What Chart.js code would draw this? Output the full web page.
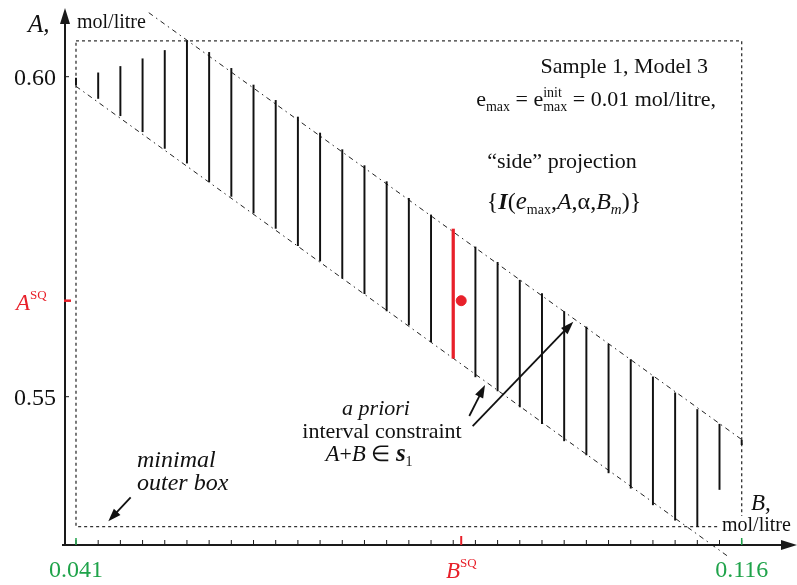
<!DOCTYPE html>
<html>
<head>
<meta charset="utf-8">
<script src="https://cdn.jsdelivr.net/npm/chart.js@4"></script>
<style>
body { margin: 0; background: #fff; }
</style>
</head>
<body>
<canvas id="myChart" width="797" height="585"></canvas>
<script>
// B values of the hatch segments (mol/litre)
const segB = [0.0410, 0.0435, 0.0460, 0.0485, 0.0510, 0.0535, 0.0560, 0.0585, 0.0610, 0.0635,
    0.0660, 0.0685, 0.0710, 0.0735, 0.0760, 0.0785, 0.0810, 0.0835, 0.0860, 0.0885,
    0.0910, 0.0935, 0.0960, 0.0985, 0.1010, 0.1035, 0.1060, 0.1085, 0.1110, 0.1135, 0.1160];
// lower / upper A of each segment
const segLow = [0.5987, 0.5966, 0.5939, 0.5914, 0.5888, 0.5865, 0.5836, 0.5813, 0.5787, 0.5763,
    0.5736, 0.5712, 0.5685, 0.5661, 0.5634, 0.5612, 0.5586, 0.5560, 0.5531, 0.5509,
    0.5484, 0.5458, 0.5431, 0.5409, 0.5381, 0.5357, 0.5331, 0.5307, 0.5297, 0.5355, 0.5425];
const segHigh = [0.5998, 0.6006, 0.6016, 0.6028, 0.6041, 0.6056, 0.6038, 0.6013, 0.5987, 0.5963,
    0.5937, 0.5912, 0.5886, 0.5861, 0.5836, 0.5810, 0.5784, 0.5762, 0.5734, 0.5710,
    0.5682, 0.5661, 0.5633, 0.5609, 0.5582, 0.5558, 0.5531, 0.5506, 0.5480, 0.5457, 0.5432];
const redSeg = 17;

const sqB = 0.0844;
const sqA = 0.5650;

// minimal outer box
const boxB = [0.041, 0.116];
const boxA = [0.5297, 0.6056];

// a priori constraint lines A+B = const
const upperB = [0.0492, 0.1160];
const upperA = [0.6100, 0.5433];
const lowerB = [0.0410, 0.1145];
const lowerA = [0.5985, 0.5250];

const yTicks = [0.60, 0.55];
const yTickLabels = ['0.60', '0.55'];
const xEndTicks = [0.041, 0.116];
const xEndLabels = ['0.041', '0.116'];

// arrows, [fromB, fromA, toB, toA]
const arrows = [
    [0.04716, 0.53427, 0.04464, 0.53052],
    [0.08531, 0.54698, 0.08708, 0.55183],
    [0.08569, 0.54542, 0.09703, 0.56172]
];

const serif = '"Liberation Serif", "Times New Roman", serif';
const font = (size, style = '') => `${style} ${size}px ${serif}`.trim();
const green = '#1fa34a';
const red = '#e8202a';

function drawRuns(ctx, x, y, parts, align, color, bg) {
    ctx.save();
    ctx.textBaseline = 'alphabetic';
    ctx.textAlign = 'left';
    const widths = parts.map(p => {
        ctx.font = p.f;
        if (p.stack) {
            return Math.max(ctx.measureText(p.stack[0]).width, ctx.measureText(p.stack[1]).width);
        }
        return ctx.measureText(p.t).width;
    });
    const total = widths.reduce((a, b) => a + b, 0);
    let cx = align === 'right' ? x - total : align === 'center' ? x - total / 2 : x;
    if (bg) {
        ctx.fillStyle = '#fff';
        ctx.fillRect(cx - 2, y - 15, total + 4, 19);
    }
    ctx.fillStyle = color || '#111';
    parts.forEach((p, i) => {
        ctx.font = p.f;
        if (p.stack) {
            ctx.fillText(p.stack[0], cx, y + p.dy[0]);
            ctx.fillText(p.stack[1], cx, y + p.dy[1]);
        } else {
            ctx.fillText(p.t, cx, y + (p.dy || 0));
        }
        cx += widths[i];
    });
    ctx.restore();
}

function arrowHead(ctx, x1, y1, x2, y2, len, hw) {
    const a = Math.atan2(y2 - y1, x2 - x1);
    const c = Math.cos(a), s = Math.sin(a);
    ctx.beginPath();
    ctx.moveTo(x1, y1);
    ctx.lineTo(x2 - c * len * 0.7, y2 - s * len * 0.7);
    ctx.stroke();
    ctx.beginPath();
    ctx.moveTo(x2, y2);
    ctx.lineTo(x2 - c * len + s * hw, y2 - s * len - c * hw);
    ctx.lineTo(x2 - c * len - s * hw, y2 - s * len + c * hw);
    ctx.closePath();
    ctx.fill();
}

const bgPlugin = {
    id: 'bg',
    beforeDraw: (chart) => {
        const { ctx } = chart;
        ctx.save();
        ctx.fillStyle = '#fff';
        ctx.fillRect(0, 0, chart.width, chart.height);
        ctx.restore();
    }
};

const decorPlugin = {
    id: 'decor',
    afterDatasetsDraw: (chart) => {
        const { ctx, chartArea } = chart;
        const xs = chart.scales.x, ys = chart.scales.y;
        const px = v => xs.getPixelForValue(v);
        const py = v => ys.getPixelForValue(v);
        const left = chartArea.left, bottom = chartArea.bottom;

        ctx.save();
        // axes
        ctx.strokeStyle = '#1a1a1a';
        ctx.fillStyle = '#1a1a1a';
        ctx.lineWidth = 2;
        arrowHead(ctx, left, bottom + 1, left, 8, 16, 5);
        arrowHead(ctx, left - 3, bottom, 797, bottom, 16, 5);

        // x minor ticks
        ctx.lineWidth = 1;
        segB.forEach(b => {
            ctx.beginPath();
            ctx.moveTo(px(b), bottom);
            ctx.lineTo(px(b), bottom - 5);
            ctx.stroke();
        });
        ctx.strokeStyle = green;
        ctx.lineWidth = 1.5;
        xEndTicks.forEach(b => {
            ctx.beginPath();
            ctx.moveTo(px(b), bottom);
            ctx.lineTo(px(b), bottom - 7);
            ctx.stroke();
        });
        ctx.strokeStyle = red;
        ctx.lineWidth = 2;
        ctx.beginPath();
        ctx.moveTo(px(sqB), bottom);
        ctx.lineTo(px(sqB), bottom - 9);
        ctx.stroke();

        // y ticks
        ctx.strokeStyle = '#1a1a1a';
        ctx.lineWidth = 1;
        yTicks.forEach(a => {
            ctx.beginPath();
            ctx.moveTo(left, py(a));
            ctx.lineTo(left + 4, py(a));
            ctx.stroke();
        });
        ctx.strokeStyle = red;
        ctx.lineWidth = 2.5;
        ctx.beginPath();
        ctx.moveTo(left - 1, py(sqA));
        ctx.lineTo(left + 6, py(sqA));
        ctx.stroke();

        // arrows
        ctx.strokeStyle = '#111';
        ctx.fillStyle = '#111';
        ctx.lineWidth = 1.8;
        arrows.forEach(a => arrowHead(ctx, px(a[0]), py(a[1]), px(a[2]), py(a[3]), 13, 4.5));
        ctx.restore();

        // tick labels
        const F = font(24);
        yTicks.forEach((a, i) => {
            drawRuns(ctx, 56, py(a) + 8, [{ t: yTickLabels[i], f: F }], 'right');
        });
        xEndTicks.forEach((b, i) => {
            drawRuns(ctx, px(b), 577, [{ t: xEndLabels[i], f: F }], 'center', green);
        });
        drawRuns(ctx, 446, 578, [{ t: 'B', f: font(23, 'italic') }, { t: 'SQ', f: font(13), dy: -11 }], 'left', red);
        drawRuns(ctx, 16, py(sqA) + 9, [{ t: 'A', f: font(23, 'italic') }, { t: 'SQ', f: font(13), dy: -11 }], 'left', red);

        // axis titles
        drawRuns(ctx, 28, 32, [{ t: 'A,', f: font(25, 'italic') }], 'left');
        drawRuns(ctx, 77, 28, [{ t: 'mol/litre', f: font(20) }], 'left');
        drawRuns(ctx, 751, 510, [{ t: 'B,', f: font(23, 'italic') }], 'left', null, true);
        drawRuns(ctx, 722, 531, [{ t: 'mol/litre', f: font(20) }], 'left', null, true);

        // annotations
        const T = font(22), Ts = font(14), Ti = font(22, 'italic');
        drawRuns(ctx, 708, 73, [{ t: 'Sample 1, Model 3', f: T }], 'right');
        drawRuns(ctx, 716, 106, [
            { t: 'e', f: T }, { t: 'max', f: Ts, dy: 5 }, { t: ' = e', f: T },
            { stack: ['init', 'max'], f: Ts, dy: [-9, 5] },
            { t: ' = 0.01 mol/litre,', f: T }
        ], 'right');
        drawRuns(ctx, 562, 168, [{ t: '\u201cside\u201d projection', f: T }], 'center');
        drawRuns(ctx, 564, 209, [
            { t: '{', f: font(24) }, { t: 'I', f: font(24, 'bold italic') }, { t: '(', f: font(24) },
            { t: 'e', f: font(25, 'italic') }, { t: 'max', f: Ts, dy: 5 }, { t: ',', f: font(24) },
            { t: 'A', f: font(24, 'italic') }, { t: ',\u03b1,', f: font(24) },
            { t: 'B', f: font(24, 'italic') }, { t: 'm', f: font(15, 'italic'), dy: 5 },
            { t: ')}', f: font(24) }
        ], 'center');
        drawRuns(ctx, 376, 415, [{ t: 'a priori', f: Ti }], 'center');
        drawRuns(ctx, 382, 438, [{ t: 'interval constraint', f: T }], 'center');
        drawRuns(ctx, 369, 461, [
            { t: 'A', f: font(23, 'italic') }, { t: '+', f: T }, { t: 'B', f: font(23, 'italic') },
            { t: ' \u2208 ', f: T }, { t: 's', f: font(25, 'bold italic') }, { t: '1', f: Ts, dy: 5 }
        ], 'center');
        drawRuns(ctx, 137, 467, [{ t: 'minimal', f: font(24, 'italic') }], 'left');
        drawRuns(ctx, 137, 490, [{ t: 'outer box', f: font(24, 'italic') }], 'left');
    }
};

const blackSegs = segB.map((b, i) => ({ x: b, y: [segLow[i], segHigh[i]] })).filter((d, i) => i !== redSeg);
const redSegs = [{ x: segB[redSeg], y: [segLow[redSeg], segHigh[redSeg]] }];

const ctx = document.getElementById('myChart');

new Chart(ctx, {
    type: 'bar',
    data: {
        datasets: [
            {
                type: 'line',
                data: [
                    { x: boxB[0], y: boxA[1] }, { x: boxB[1], y: boxA[1] },
                    { x: boxB[1], y: boxA[0] }, { x: boxB[0], y: boxA[0] },
                    { x: boxB[0], y: boxA[1] }
                ],
                borderColor: '#333',
                borderWidth: 1.3,
                borderDash: [3, 3],
                pointRadius: 0,
                fill: false,
                order: 5
            },
            {
                type: 'line',
                data: upperB.map((b, i) => ({ x: b, y: upperA[i] })),
                borderColor: '#222',
                borderWidth: 1,
                borderDash: [5, 4, 1.5, 4],
                pointRadius: 0,
                fill: false,
                clip: false,
                order: 4
            },
            {
                type: 'line',
                data: lowerB.map((b, i) => ({ x: b, y: lowerA[i] })),
                borderColor: '#222',
                borderWidth: 1,
                borderDash: [5, 4, 1.5, 4],
                pointRadius: 0,
                fill: false,
                clip: false,
                order: 4
            },
            {
                type: 'bar',
                data: blackSegs,
                backgroundColor: '#111',
                barThickness: 1.3,
                grouped: false,
                order: 3
            },
            {
                type: 'bar',
                data: redSegs,
                backgroundColor: red,
                barThickness: 2.6,
                grouped: false,
                order: 2
            },
            {
                type: 'scatter',
                data: [{ x: sqB, y: sqA }],
                backgroundColor: red,
                borderColor: red,
                pointRadius: 5,
                order: 1
            }
        ]
    },
    options: {
        responsive: false,
        animation: false,
        layout: {
            autoPadding: false,
            padding: { top: 12, bottom: 40, left: 65, right: 0 }
        },
        plugins: {
            legend: { display: false },
            tooltip: { enabled: false }
        },
        scales: {
            x: { type: 'linear', min: 0.039761, max: 0.122231, offset: false, display: false },
            y: { type: 'linear', min: 0.526828, max: 0.610109, display: false }
        }
    },
    plugins: [bgPlugin, decorPlugin]
});
</script>
</body>
</html>
